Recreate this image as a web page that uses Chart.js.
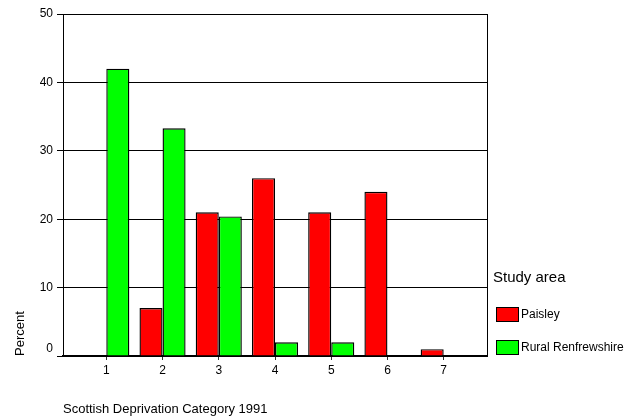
<!DOCTYPE html>
<html>
<head>
<meta charset="utf-8">
<script src="https://cdn.jsdelivr.net/npm/chart.js@4"></script>
<style>
  html, body { margin: 0; padding: 0; background: #fff; }
  #wrap { width: 642px; height: 419px; position: relative; }
</style>
</head>
<body>
<div id="wrap"><canvas id="c" width="642" height="419"></canvas></div>
<script>
const categories = [1, 2, 3, 4, 5, 6, 7];
const paisley = [0, 7, 21, 26, 21, 24, 1];
const ruralRenfrewshire = [42, 33.3, 20.4, 2, 2, 0, 0];
const yTicks = [0, 10, 20, 30, 40, 50];
const seriesNames = ['Paisley', 'Rural Renfrewshire'];
const legendTitle = 'Study area';
const xTitle = 'Scottish Deprivation Category 1991';
const yTitle = 'Percent';

const FONT = '"Liberation Sans", Arial, sans-serif';

const sideLegend = {
  id: 'sideLegend',
  afterDraw(chart) {
    const { ctx, chartArea } = chart;
    const x0 = chartArea.right;
    ctx.save();
    ctx.fillStyle = '#000';
    ctx.textBaseline = 'middle';
    ctx.textAlign = 'left';
    ctx.font = '15px ' + FONT;
    ctx.fillText(legendTitle, x0 + 6, chartArea.bottom - 78);
    chart.data.datasets.forEach((ds, i) => {
      const by = Math.round(chartArea.bottom - 49 + i * 33);
      const bx = Math.round(x0 + 9);
      ctx.fillStyle = ds.backgroundColor;
      ctx.fillRect(bx, by, 23, 15);
      ctx.strokeStyle = '#000';
      ctx.lineWidth = 1;
      ctx.strokeRect(bx + 0.5, by + 0.5, 22, 14);
      ctx.fillStyle = '#000';
      ctx.font = '12px ' + FONT;
      ctx.fillText(ds.label, bx + 25, by + 8);
    });
    ctx.restore();
  }
};

const frame = {
  id: 'frame',
  afterDatasetsDraw(chart) {
    const { ctx, chartArea } = chart;
    ctx.save();
    ctx.strokeStyle = '#000';
    ctx.lineWidth = 1;
    ctx.beginPath();
    const x = Math.round(chartArea.right) + 0.5;
    ctx.moveTo(x, chartArea.top);
    ctx.lineTo(x, chartArea.bottom);
    ctx.stroke();
    ctx.restore();
  }
};

new Chart(document.getElementById('c'), {
  type: 'bar',
  data: {
    datasets: [
      {
        label: seriesNames[0],
        data: categories.map((c, i) => ({ x: c, y: paisley[i] })),
        backgroundColor: '#ff0000',
        borderColor: '#000',
        borderWidth: 1.4
      },
      {
        label: seriesNames[1],
        data: categories.map((c, i) => ({ x: c, y: ruralRenfrewshire[i] })),
        backgroundColor: '#00ff00',
        borderColor: '#000',
        borderWidth: 1.4
      }
    ]
  },
  options: {
    responsive: false,
    animation: false,
    devicePixelRatio: 1,
    categoryPercentage: 0.82,
    barPercentage: 1.0,
    layout: { padding: { left: 0, right: 155, top: 14, bottom: 0 } },
    plugins: {
      legend: { display: false },
      tooltip: { enabled: false }
    },
    scales: {
      x: {
        type: 'linear',
        min: 0.23,
        max: 7.77,
        offset: false,
        afterBuildTicks: (axis) => { axis.ticks = categories.map(v => ({ value: v })); },
        afterFit: (s) => { s.height = 63; },
        grid: { offset: false, drawOnChartArea: false, drawTicks: true, tickLength: 4, color: '#333' },
        border: { display: true, color: '#000', width: 2 },
        ticks: { color: '#000', font: { family: FONT, size: 12 }, padding: 3, maxRotation: 0, autoSkip: false },
        title: {
          display: true, text: xTitle, align: 'start', color: '#000',
          font: { family: FONT, size: 13 }, padding: { top: 0, bottom: 2 }
        }
      },
      y: {
        min: 0,
        max: 50,
        afterBuildTicks: (axis) => { axis.ticks = yTicks.map(v => ({ value: v })); },
        afterFit: (s) => { s.width = 63; },
        grid: { color: '#000', lineWidth: 1, tickLength: 6, drawTicks: true },
        border: { display: true, color: '#000', width: 1 },
        ticks: {
          color: '#000', font: { family: FONT, size: 12 }, padding: 4,
          callback: (v) => (v === 0 ? ['0', ''] : String(v))
        },
        title: {
          display: true, text: yTitle, align: 'start', color: '#000',
          font: { family: FONT, size: 13 }, padding: { top: 13, bottom: 0 }
        }
      }
    }
  },
  plugins: [frame, sideLegend]
});
</script>
</body>
</html>
